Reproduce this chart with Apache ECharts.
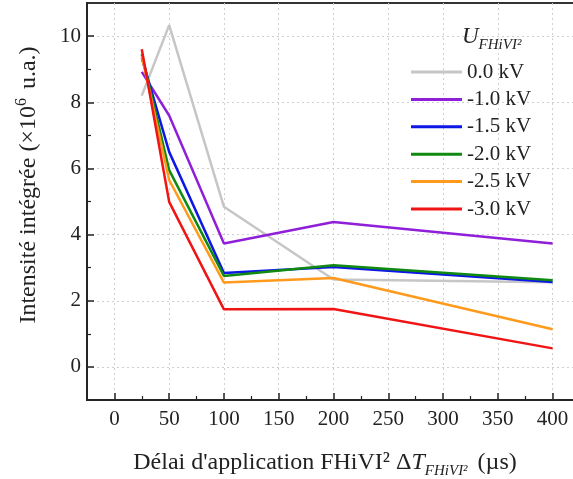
<!DOCTYPE html>
<html>
<head>
<meta charset="utf-8">
<script src="https://cdn.jsdelivr.net/npm/echarts@6/dist/echarts.min.js"></script>
<style>html,body{margin:0;padding:0;background:#fff}#c{width:573px;height:479px}</style>
</head>
<body>
<div id="c"></div>
<script>
// Delay values (µs)
const delays = [25, 50, 100, 200, 400];
// Series names
const seriesNames = ['0.0 kV', '-1.0 kV', '-1.5 kV', '-2.0 kV', '-2.5 kV', '-3.0 kV'];
// Integrated intensity (×10^6 a.u.)
const v0_0 = [8.2, 10.33, 4.84, 2.64, 2.56];
const v1_0 = [8.92, 7.6, 3.73, 4.38, 3.73];
const v1_5 = [9.35, 6.5, 2.84, 3.02, 2.57];
const v2_0 = [9.45, 5.95, 2.75, 3.07, 2.62];
const v2_5 = [9.4, 5.65, 2.55, 2.69, 1.14];
const v3_0 = [9.6, 4.99, 1.74, 1.75, 0.56];
const xTickLabels = [0, 50, 100, 150, 200, 250, 300, 350, 400];
const xMinorTicks = [25, 75, 125, 175, 225, 275, 325, 375];
const yTickLabels = [0, 2, 4, 6, 8, 10];
const yMinorTicks = [1, 3, 5, 7, 9];

const colors = ['#c6c6c6', '#8f1fd8', '#0d17e6', '#108a10', '#ff9a1c', '#f01414'];
const allValues = [v0_0, v1_0, v1_5, v2_0, v2_5, v3_0];
const FONT = '"Liberation Serif", "Times New Roman", serif';

const chart = echarts.init(document.getElementById('c'));
const gridLine = { show: true, lineStyle: { color: '#cfcfcf', type: [2, 3], width: 1 } };
const axisLine = { show: true, onZero: false, lineStyle: { color: '#222', width: 1.5 } };

chart.setOption({
  animation: false,
  backgroundColor: '#fff',
  grid: { left: 87, top: 3, width: 493, height: 397, outerBoundsMode: 'none', containLabel: false, show: true, borderColor: '#333', borderWidth: 2 },
  xAxis: [
    {
      type: 'value', min: -25, max: 425, interval: 25, position: 'bottom',
      axisLine: axisLine,
      axisTick: { show: true, inside: true, length: 7, customValues: xTickLabels, lineStyle: { color: '#222', width: 1.5 } },
      axisLabel: { customValues: xTickLabels, margin: 9, color: '#222', fontFamily: FONT, fontSize: 21 },
      splitLine: gridLine
    },
    {
      type: 'value', min: -25, max: 425, interval: 25, position: 'bottom',
      axisLine: { show: false, onZero: false },
      axisTick: { show: true, inside: true, length: 4, customValues: xMinorTicks, lineStyle: { color: '#222', width: 1.2 } },
      axisLabel: { show: false },
      splitLine: { show: false }
    }
  ],
  yAxis: [
    {
      type: 'value', min: -1, max: 11, interval: 1, position: 'left',
      axisLine: axisLine,
      axisTick: { show: true, inside: true, length: 7, customValues: yTickLabels, lineStyle: { color: '#222', width: 1.5 } },
      axisLabel: { customValues: yTickLabels, margin: 6, color: '#222', fontFamily: FONT, fontSize: 21 },
      splitLine: gridLine
    },
    {
      type: 'value', min: -1, max: 11, interval: 1, position: 'left',
      axisLine: { show: false, onZero: false },
      axisTick: { show: true, inside: true, length: 4, customValues: yMinorTicks, lineStyle: { color: '#222', width: 1.2 } },
      axisLabel: { show: false },
      splitLine: { show: false }
    }
  ],
  legend: {
    orient: 'vertical', left: 406, top: 56,
    icon: 'rect', itemWidth: 51, itemHeight: 3, itemGap: 5.4,
    textStyle: { fontFamily: FONT, fontSize: 21, color: '#222', lineHeight: 22 },
    data: seriesNames
  },
  graphic: [
    {
      type: 'text', x: 29, y: 185, rotation: Math.PI / 2,
      style: {
        text: 'Intensité intégrée (×10{sup|6} u.a.)',
        font: '24px ' + FONT, fill: '#222', align: 'center', verticalAlign: 'middle',
        rich: { sup: { fontSize: 16, fontFamily: FONT, fill: '#222', padding: [0, 3, 14, 0] } }
      }
    },
    {
      type: 'text', x: 325, y: 463,
      style: {
        text: 'Délai d\'application FHiVI² Δ{it|T}{sub|FHiVI²} (µs)',
        font: '24px ' + FONT, fill: '#222', align: 'center', verticalAlign: 'middle',
        rich: {
          it: { fontSize: 24, fontStyle: 'italic', fontFamily: FONT, fill: '#222' },
          sub: { fontSize: 15, fontStyle: 'italic', fontFamily: FONT, fill: '#222', padding: [16, 4, 0, 0] }
        }
      }
    },
    {
      type: 'text', x: 462, y: 37,
      style: {
        text: '{u|U}{sub|FHiVI²}',
        font: '22px ' + FONT, fill: '#222', align: 'left', verticalAlign: 'middle',
        rich: {
          u: { fontSize: 23, fontStyle: 'italic', fontFamily: FONT, fill: '#222' },
          sub: { fontSize: 15, fontStyle: 'italic', fontFamily: FONT, fill: '#222', padding: [16, 0, 0, 0] }
        }
      }
    }
  ],
  series: seriesNames.map((name, i) => ({
    name: name, type: 'line', xAxisIndex: 0, yAxisIndex: 0,
    showSymbol: false, symbol: 'none',
    lineStyle: { width: 2.5, color: colors[i] },
    itemStyle: { color: colors[i] },
    data: delays.map((d, j) => [d, allValues[i][j]])
  }))
});
</script>
</body>
</html>
